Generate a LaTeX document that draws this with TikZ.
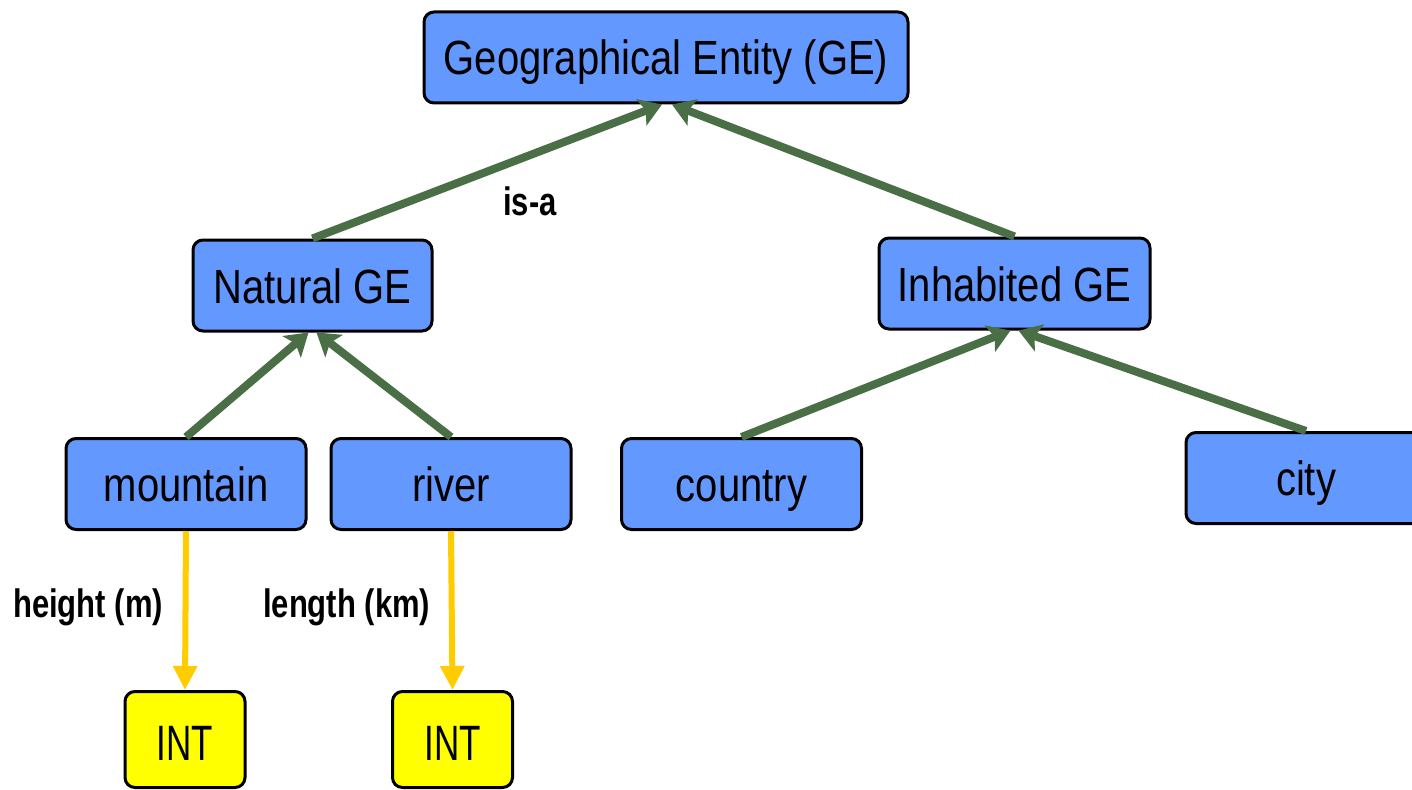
\documentclass[tikz,border=0pt]{standalone}
\usepackage{fontspec}
\setmainfont{Liberation Sans}
\usetikzlibrary{arrows.meta,calc}
\definecolor{boxblue}{RGB}{99,153,255}
\definecolor{isagreen}{RGB}{74,110,70}
\definecolor{attryellow}{RGB}{255,204,0}
\definecolor{intyellow}{RGB}{255,255,0}
\newcommand{\tall}[1]{\scalebox{1}[1.2]{#1}}
\newcommand{\taller}[1]{\scalebox{1}[1.42]{#1}}
\newcommand{\lbltall}[1]{\scalebox{1}[1.28]{#1}}
\tikzset{
 cls/.style={draw=black, line width=3pt, fill=boxblue, rounded corners=10pt, minimum width=240pt, minimum height=91pt, inner sep=0pt, text height=35pt, text depth=0pt, font=\fontsize{40}{48}\selectfont},
 dtype/.style={cls, fill=intyellow, minimum width=120pt, minimum height=96pt, text height=41pt, font=\fontsize{35}{42}\selectfont},
 isa/.style={draw=isagreen, line width=8pt, -{Stealth[length=22pt,width=28pt,inset=5pt]}},
 attr/.style={draw=attryellow, line width=6pt, -{Triangle[length=24pt,width=23pt]}},
 lbl/.style={font=\fontsize{31}{36}\selectfont\bfseries, inner sep=0pt, anchor=base west},
}
\begin{document}
\begin{tikzpicture}[x=1pt,y=-1pt]
\clip (0,0) rectangle (1412,789);
\fill[white] (0,0) rectangle (1412,789);
\node[cls, minimum width=484pt] (ge) at (666,57.5) {\tall{Geographical Entity (GE)}};
\node[cls, minimum width=239pt] (nat) at (312.5,285.5) {\tall{Natural GE}};
\node[cls, minimum width=271pt] (inh) at (1014.5,283.5) {\tall{Inhabited GE}};
\node[cls] (mtn) at (186,484) {\tall{mountain}};
\node[cls] (riv) at (451,484) {\tall{river}};
\node[cls] (cty) at (741.5,484) {\tall{country}};
\node[cls] (city) at (1306,478) {\tall{city}};
\node[dtype] (int1) at (185,739.5) {\taller{INT}};
\node[dtype] (int2) at (452.5,739.5) {\taller{INT}};
\draw[isa] (nat.north) -- ($(ge.south)+(-4,0)$);
\draw[isa] (inh.north) -- ($(ge.south)+(6,0)$);
\draw[isa] (mtn.north) -- ($(nat.south)+(-4,0)$);
\draw[isa] (riv.north) -- ($(nat.south)+(4,0)$);
\draw[isa] (cty.north) -- ($(inh.south)+(-4,0)$);
\draw[isa] (city.north) -- ($(inh.south)+(4,0)$);
\draw[attr] (mtn.south) -- (int1.north);
\draw[attr] (riv.south) -- (int2.north);
\node[lbl] (isalbl) at (503,215) {\lbltall{is-a}};
\node[lbl] (hlbl) at (13,617) {\lbltall{height (m)}};
\node[lbl] (llbl) at (263,617) {\lbltall{length (km)}};
\end{tikzpicture}
\end{document}
